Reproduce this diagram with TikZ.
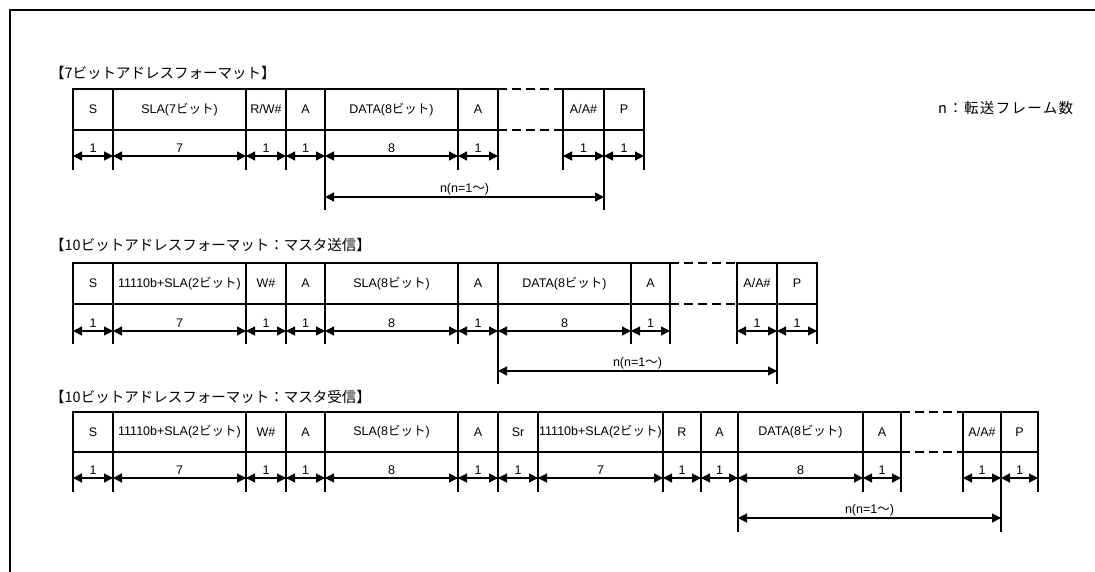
\documentclass[tikz,border=0pt]{standalone}
\usepackage{fontspec}
\setmainfont{Liberation Sans}
\newfontfamily\jp{Noto Sans CJK JP}
\newfontfamily\jpwide[LetterSpace=9]{Noto Sans CJK JP}
\usetikzlibrary{arrows.meta}

\begin{document}
\begin{tikzpicture}[
    x=1pt, y=-1pt,
    font=\fontsize{12.5}{14}\selectfont,
    cell/.style={rectangle, draw, line width=2.4pt, inner sep=0pt, outer sep=0pt, minimum height=41pt, align=center},
    edge/.style={line width=2.4pt},
    gapline/.style={line width=2.4pt, dash pattern=on 9pt off 5pt},
    dim/.style={{Triangle[length=9pt,width=9pt]}-{Triangle[length=9pt,width=9pt]}, line width=1.3pt},
    num/.style={font=\fontsize{12.5}{14}\selectfont, inner sep=3pt},
    title/.style={anchor=west, inner sep=0pt, font=\jp\fontsize{14.5}{16}\selectfont},
    frame/.style={line width=2.8pt}
]
\useasboundingbox (0,0) rectangle (1095,572);

% 1. Outer Frame
\draw[frame] (1095,10) -- (10,10) -- (10,572);

% 2. Format Titles and Legend
\node[title] (t1) at (50,73) {【7ビットアドレスフォーマット】};
\node[title] (t2) at (50,245) {【10ビットアドレスフォーマット：マスタ送信】};
\node[title] (t3) at (50,397) {【10ビットアドレスフォーマット：マスタ受信】};
\node[anchor=west, inner sep=0pt, font=\jpwide\fontsize{14.5}{16}\selectfont] (legend) at (938,108) {n：転送フレーム数};

% -- Row 1: 7-bit address --
\foreach \xa/\xb/\txt/\len [count=\i] in {73/113/S/1, 113/246/SLA(7{\jp ビット})/7, 246/286/{R/W\#}/1, 286/325/A/1,
    325/458/DATA(8{\jp ビット})/8, 458/498/A/1, 563/604/{A/A\#}/1, 604/644/P/1}{
  \node[cell, minimum width={(\xb-\xa)*1pt}] (r1c\i) at ({(\xa+\xb)/2},109.5) {\txt};
  \draw[edge] (r1c\i.south west) -- ([yshift=-40pt]r1c\i.south west);
  \draw[edge] (r1c\i.south east) -- ([yshift=-40pt]r1c\i.south east);
  \draw[dim] ([yshift=-26pt]r1c\i.south west) -- node[above, num]{\len} ([yshift=-26pt]r1c\i.south east);
}
\draw[gapline] (r1c6.north east) -- (r1c7.north west);
\draw[gapline] (r1c6.south east) -- (r1c7.south west);
\draw[edge] (r1c5.south west) -- ([yshift=-80pt]r1c5.south west);
\draw[edge] (r1c7.south east) -- ([yshift=-80pt]r1c7.south east);
\draw[dim] ([yshift=-67pt]r1c5.south west) -- node[above, inner sep=1pt]{n(n=1{\jp ～})} ([yshift=-67pt]r1c7.south east);

% -- Row 2: 10-bit address, master transmit --
\foreach \xa/\xb/\txt/\len [count=\i] in {73/113/S/1, 113/246/11110b+SLA(2{\jp ビット})/7, 246/286/W\#/1, 286/325/A/1,
    325/458/SLA(8{\jp ビット})/8, 458/498/A/1, 498/631/DATA(8{\jp ビット})/8, 631/670/A/1, 737/777/{A/A\#}/1, 777/817/P/1}{
  \node[cell, minimum width={(\xb-\xa)*1pt}] (r2c\i) at ({(\xa+\xb)/2},283.5) {\txt};
  \draw[edge] (r2c\i.south west) -- ([yshift=-40pt]r2c\i.south west);
  \draw[edge] (r2c\i.south east) -- ([yshift=-40pt]r2c\i.south east);
  \draw[dim] ([yshift=-27pt]r2c\i.south west) -- node[above, num]{\len} ([yshift=-27pt]r2c\i.south east);
}
\draw[gapline] (r2c8.north east) -- (r2c9.north west);
\draw[gapline] (r2c8.south east) -- (r2c9.south west);
\draw[edge] (r2c7.south west) -- ([yshift=-80pt]r2c7.south west);
\draw[edge] (r2c9.south east) -- ([yshift=-80pt]r2c9.south east);
\draw[dim] ([yshift=-67pt]r2c7.south west) -- node[above, inner sep=1pt]{n(n=1{\jp ～})} ([yshift=-67pt]r2c9.south east);

% -- Row 3: 10-bit address, master receive --
\foreach \xa/\xb/\txt/\len [count=\i] in {73/113/S/1, 113/246/11110b+SLA(2{\jp ビット})/7, 246/286/W\#/1, 286/325/A/1,
    325/458/SLA(8{\jp ビット})/8, 458/498/A/1, 498/538/Sr/1, 538/663/11110b+SLA(2{\jp ビット})/7, 663/701/R/1,
    701/738/A/1, 738/863/DATA(8{\jp ビット})/8, 863/901/A/1, 963/1001/{A/A\#}/1, 1001/1038/P/1}{
  \node[cell, minimum height=40pt, minimum width={(\xb-\xa)*1pt}] (r3c\i) at ({(\xa+\xb)/2},432) {\txt};
  \draw[edge] (r3c\i.south west) -- ([yshift=-40pt]r3c\i.south west);
  \draw[edge] (r3c\i.south east) -- ([yshift=-40pt]r3c\i.south east);
  \draw[dim] ([yshift=-26pt]r3c\i.south west) -- node[above, num]{\len} ([yshift=-26pt]r3c\i.south east);
}
\draw[gapline] (r3c12.north east) -- (r3c13.north west);
\draw[gapline] (r3c12.south east) -- (r3c13.south west);
\draw[edge] (r3c11.south west) -- ([yshift=-80pt]r3c11.south west);
\draw[edge] (r3c13.south east) -- ([yshift=-80pt]r3c13.south east);
\draw[dim] ([yshift=-66pt]r3c11.south west) -- node[above, inner sep=1pt]{n(n=1{\jp ～})} ([yshift=-66pt]r3c13.south east);

\end{tikzpicture}
\end{document}
